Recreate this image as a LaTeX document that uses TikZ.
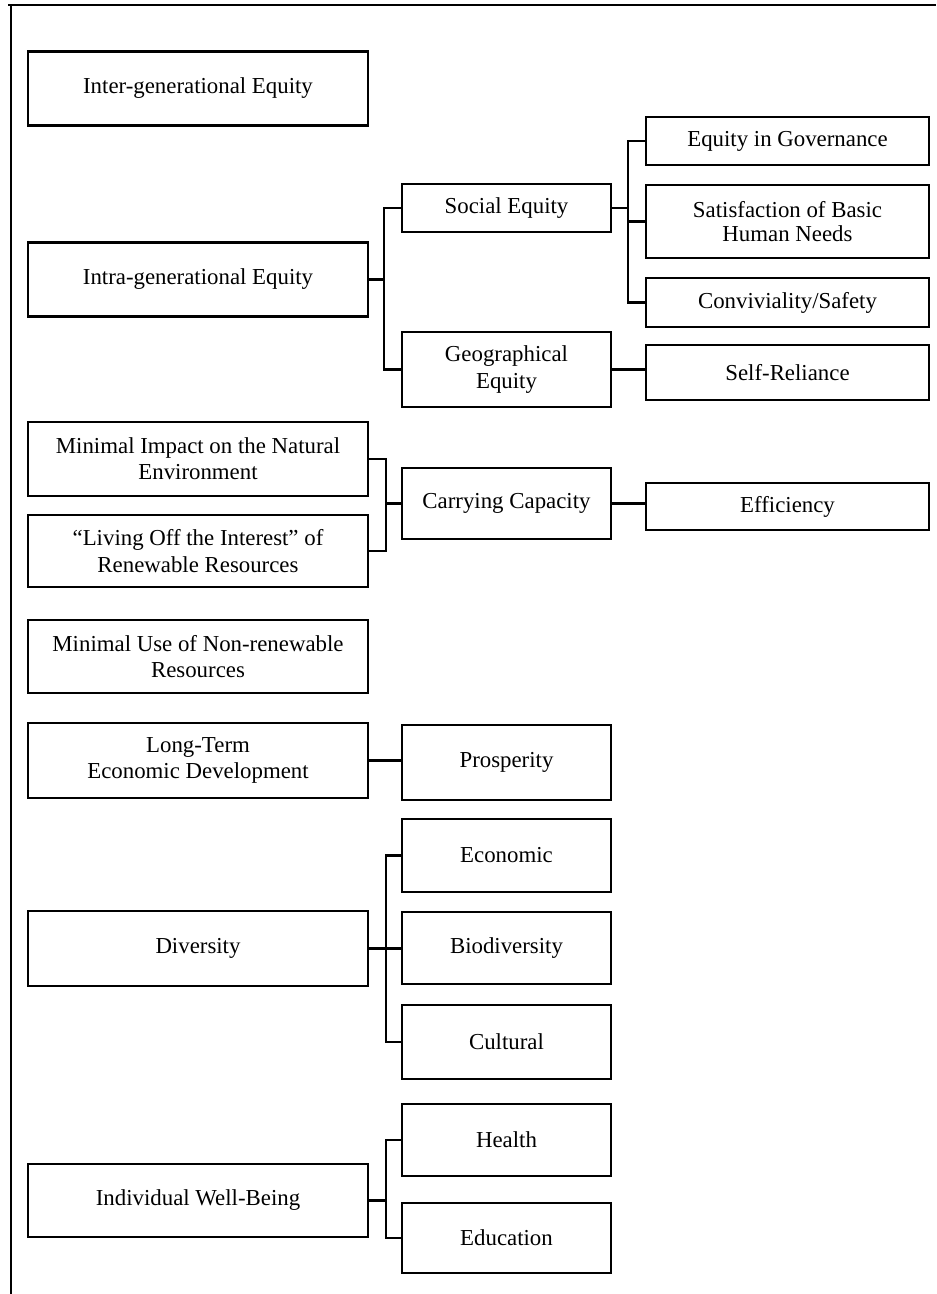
\documentclass[tikz,border=0pt]{standalone}
\usepackage{fontspec}
\setmainfont{Liberation Serif}

\begin{document}
\begin{tikzpicture}[
  x=0.02cm, y=-0.02cm, line width=1.2pt,
  box/.style={draw,align=center,inner sep=2pt,font=\fontsize{13}{15}\selectfont},
  lbox/.style={box,minimum width=6.8cm,minimum height=1.48cm},
  mbox/.style={box,minimum width=4.18cm,minimum height=1.46cm},
  rbox/.style={box,minimum width=5.66cm,minimum height=0.96cm}
]
  \useasboundingbox (0,0) rectangle (936,1294);
  % frame
  \draw[line width=1.2pt] (8,5) -- (936,5);
  \draw[line width=1.2pt] (11,5) -- (11,1294);

  % left column
  \node[lbox] (inter) at (198,88.5) {Inter-generational Equity};
  \node[lbox] (intra) at (198,279.5) {Intra-generational Equity};
  \node[lbox] (impact) at (198,459) {Minimal Impact on the Natural\\Environment};
  \node[lbox,minimum height=1.44cm] (living) at (198,551) {“Living Off the Interest” of\\Renewable Resources};
  \node[lbox,minimum height=1.46cm] (nonren) at (198,656.5) {Minimal Use of Non-renewable\\Resources};
  \node[lbox,minimum height=1.5cm] (longterm) at (198,760.5) {Long-Term\\Economic Development};
  \node[lbox,minimum height=1.5cm] (diversity) at (198,948.5) {Diversity};
  \node[lbox,minimum height=1.46cm] (wellbeing) at (198,1200.5) {Individual Well-Being};

  % middle column
  \node[mbox,minimum height=0.96cm] (social) at (506.5,208) {Social Equity};
  \node[mbox,minimum height=1.5cm] (geo) at (506.5,369.5) {Geographical\\Equity};
  \node[mbox,minimum height=1.42cm] (carrying) at (506.5,503.5) {Carrying Capacity};
  \node[mbox,minimum height=1.5cm] (prosperity) at (506.5,762.5) {Prosperity};
  \node[mbox] (economic) at (506.5,855.5) {Economic};
  \node[mbox,minimum height=1.44cm] (biodiv) at (506.5,948) {Biodiversity};
  \node[mbox,minimum height=1.48cm] (cultural) at (506.5,1042) {Cultural};
  \node[mbox,minimum height=1.44cm] (health) at (506.5,1140) {Health};
  \node[mbox,minimum height=1.4cm] (education) at (506.5,1238) {Education};

  % right column
  \node[rbox] (governance) at (787.5,141) {Equity in Governance};
  \node[rbox,minimum height=1.46cm,font=\fontsize{13}{13.5}\selectfont] (needs) at (787.5,221.5) {Satisfaction of Basic\\Human Needs};
  \node[rbox,minimum height=0.98cm] (safety) at (787.5,302.5) {Conviviality/Safety};
  \node[rbox,minimum height=1.1cm] (reliance) at (787.5,372.5) {Self-Reliance};
  \node[rbox,minimum height=0.94cm] (efficiency) at (787.5,506.5) {Efficiency};

  % bus points
  \coordinate (b1) at (384,279.5);
  \coordinate (b2) at (628,208);
  \coordinate (b3) at (386,503.5);
  \coordinate (b4) at (386,948);
  \coordinate (b5) at (386,1200.5);

  % connectors
  \draw (intra.east) -- (b1);
  \draw (social.west) -| (b1) |- (geo.west);
  \draw (social.east) -- (b2);
  \draw (governance.west) -| (b2) |- (safety.west);
  \draw (needs.west) -- (needs.west -| b2);
  \draw (geo.east) -- (geo.east -| reliance.west);
  \draw (impact.east) -| (b3) |- (living.east);
  \draw (b3) -- (carrying.west);
  \draw (carrying.east) -- (carrying.east -| efficiency.west);
  \draw (longterm.east) -- (longterm.east -| prosperity.west);
  \draw (economic.west) -| (b4) |- (cultural.west);
  \draw (diversity.east) -- (diversity.east -| biodiv.west);
  \draw (health.west) -| (b5) |- (education.west);
  \draw (wellbeing.east) -- (b5);
\end{tikzpicture}
\end{document}
